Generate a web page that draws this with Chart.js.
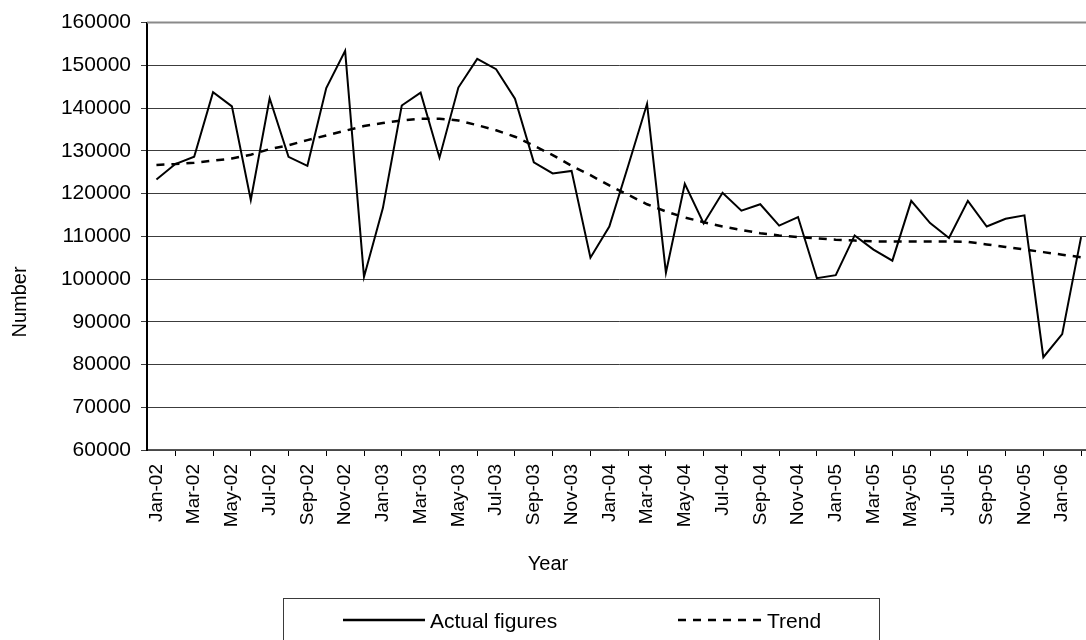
<!DOCTYPE html>
<html>
<head>
<meta charset="utf-8">
<title>Actual figures and trend, Jan-02 to Feb-06</title>
<script src="https://cdn.jsdelivr.net/npm/chart.js@4.4.1/dist/chart.umd.min.js"></script>
<style>
  html, body { margin: 0; padding: 0; background: #fff; overflow: hidden; }
  #wrap { width: 1086px; height: 640px; overflow: hidden; position: relative; }
  canvas { display: block; }
</style>
</head>
<body>
<div id="wrap"><canvas id="chart" width="1093" height="640"></canvas></div>
<script>
// Monthly categories
const months = [
  'Jan-02','Feb-02','Mar-02','Apr-02','May-02','Jun-02','Jul-02','Aug-02','Sep-02','Oct-02','Nov-02','Dec-02',
  'Jan-03','Feb-03','Mar-03','Apr-03','May-03','Jun-03','Jul-03','Aug-03','Sep-03','Oct-03','Nov-03','Dec-03',
  'Jan-04','Feb-04','Mar-04','Apr-04','May-04','Jun-04','Jul-04','Aug-04','Sep-04','Oct-04','Nov-04','Dec-04',
  'Jan-05','Feb-05','Mar-05','Apr-05','May-05','Jun-05','Jul-05','Aug-05','Sep-05','Oct-05','Nov-05','Dec-05',
  'Jan-06','Feb-06'
];

// Monthly counts
const actualFigures = [
  123300, 126900, 128600, 143700, 140400, 118500, 142300, 128600, 126500, 144700, 153400, 100500,
  116600, 140600, 143600, 128400, 144800, 151500, 149100, 142200, 127300, 124700, 125300, 105000,
  112300, 126500, 141000, 101500, 122300, 113000, 120200, 116000, 117500, 112500, 114500, 100200,
  100900, 110200, 106900, 104300, 118300, 113100, 109600, 118300, 112300, 114100, 114900, 81700,
  87100, 109800
];

// Smoothed trend
const trendValues = [
  126700, 126900, 127200, 127700, 128200, 129100, 130400, 131300, 132500, 133600, 134700, 135800,
  136500, 137100, 137500, 137500, 137100, 136000, 134800, 133300, 131200, 129000, 126500, 124300,
  121900, 119700, 117500, 115800, 114400, 113300, 112300, 111500, 110700, 110200, 109800, 109500,
  109200, 109000, 108800, 108800, 108800, 108800, 108800, 108700, 108100, 107500, 106900, 106300,
  105700, 105100
];

// Value axis range
const yMin = 60000;
const yMax = 160000;
const yStep = 10000;

const xTitle = 'Year';
const yTitle = 'Number';

const FONT = '"Liberation Sans", Arial, Helvetica, sans-serif';

// Axis titles, plot frame top edge and the boxed legend
const decorations = {
  id: 'decorations',
  afterDraw(chart) {
    const ctx = chart.ctx;
    const area = chart.chartArea;
    ctx.save();

    // top edge of the plot frame
    ctx.strokeStyle = '#8a8a8a';
    ctx.lineWidth = 2;
    ctx.beginPath();
    ctx.moveTo(area.left, area.top);
    ctx.lineTo(area.right, area.top);
    ctx.stroke();

    ctx.fillStyle = '#000';
    ctx.font = '20px ' + FONT;
    ctx.textAlign = 'center';
    ctx.textBaseline = 'middle';

    // x axis title
    ctx.fillText(xTitle, 548, 564);

    // y axis title
    ctx.save();
    ctx.translate(20, 302);
    ctx.rotate(-Math.PI / 2);
    ctx.fillText(yTitle, 0, 0);
    ctx.restore();

    // legend box
    ctx.strokeStyle = '#3a3a3a';
    ctx.lineWidth = 1;
    ctx.strokeRect(283.5, 598.5, 596, 70);

    const items = [
      { x0: 343, x1: 425, tx: 430 },
      { x0: 678, x1: 762, tx: 767 }
    ];
    ctx.font = '21px ' + FONT;
    ctx.textAlign = 'left';
    chart.data.datasets.forEach((ds, i) => {
      const it = items[i];
      ctx.strokeStyle = ds.borderColor;
      ctx.lineWidth = 2.5;
      ctx.setLineDash(ds.borderDash || []);
      ctx.beginPath();
      ctx.moveTo(it.x0, 620);
      ctx.lineTo(it.x1, 620);
      ctx.stroke();
      ctx.setLineDash([]);
      ctx.fillText(ds.label, it.tx, 622);
    });

    ctx.restore();
  }
};

new Chart(document.getElementById('chart').getContext('2d'), {
  type: 'line',
  data: {
    labels: months,
    datasets: [
      {
        label: 'Actual figures',
        data: actualFigures,
        borderColor: '#000',
        borderWidth: 2,
        pointRadius: 0,
        tension: 0,
        fill: false
      },
      {
        label: 'Trend',
        data: trendValues,
        borderColor: '#000',
        borderWidth: 2.5,
        borderDash: [8, 7],
        pointRadius: 0,
        tension: 0,
        fill: false
      }
    ]
  },
  options: {
    responsive: false,
    animation: false,
    devicePixelRatio: 1,
    layout: { padding: { left: 0, right: 0, top: 20, bottom: 0 } },
    plugins: {
      legend: { display: false },
      tooltip: { enabled: false }
    },
    scales: {
      x: {
        offset: true,
        grid: {
          offset: true,
          drawOnChartArea: false,
          drawTicks: true,
          tickLength: 6,
          color: '#000',
          lineWidth: 1
        },
        border: { color: '#555', width: 1.5 },
        ticks: {
          autoSkip: false,
          maxRotation: 90,
          minRotation: 90,
          padding: 8,
          color: '#000',
          font: { family: FONT, size: 19 },
          callback: (v, i) => (i % 2 === 0 ? months[i] : null)
        },
        afterFit: (s) => { s.height = 190; }
      },
      y: {
        min: yMin,
        max: yMax,
        grid: {
          color: '#3c3c3c',
          lineWidth: 1,
          drawTicks: true,
          tickLength: 6
        },
        border: { color: '#000', width: 2 },
        ticks: {
          stepSize: yStep,
          padding: 10,
          color: '#000',
          font: { family: FONT, size: 21 },
          callback: (v) => String(v)
        },
        afterFit: (s) => { s.width = 147; }
      }
    }
  },
  plugins: [decorations]
});
</script>
</body>
</html>
